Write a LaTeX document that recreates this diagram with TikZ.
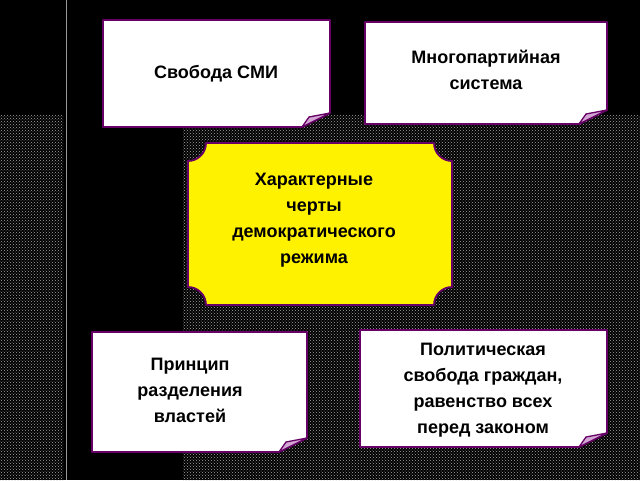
\documentclass[tikz,border=0pt]{standalone}
\usepackage{fontspec}
\setmainfont{Liberation Sans}
\usetikzlibrary{patterns}
\begin{document}
\begin{tikzpicture}[x=1pt,y=-1pt,
  card/.style={fill=white,draw=violet!80!black,line width=1.8pt,line join=round},
  flap/.style={fill=violet!35,draw=violet!80!black,line width=1.3pt,line join=round},
  txt/.style={font=\bfseries\fontsize{18}{26}\selectfont,align=center,text=black}]
\useasboundingbox (0,0) rectangle (640,480);
\fill[black] (0,0) rectangle (640,480);
\fill[pattern=crosshatch dots,pattern color=gray!70] (0,115) rectangle (63,480);
\fill[pattern=crosshatch dots,pattern color=gray!70] (183,115) rectangle (640,480);
\draw[gray!80,line width=1pt] (66,0) -- (66,480);
% folded cards
\foreach \xa/\ya/\xb/\yb in {103/20/330/127, 365/22/607/124, 92/332/307/452, 360/330/607/447}{
  \draw[card] (\xa,\ya) -- (\xb,\ya) -- (\xb,\yb-14) -- (\xb-28,\yb) -- (\xa,\yb) -- cycle;
  \draw[flap] (\xb-28,\yb) -- (\xb-21,\yb-10) -- (\xb,\yb-14) -- cycle;
}
% center plaque
\draw[fill=yellow,draw=violet!80!black,line width=1.8pt]
  (206,143) -- (434,143) arc[start angle=180,end angle=90,radius=18]
  -- (452,287) arc[start angle=270,end angle=180,radius=18]
  -- (206,305) arc[start angle=0,end angle=-90,radius=18]
  -- (188,161) arc[start angle=90,end angle=0,radius=18] -- cycle;
\node[txt] (smi) at (216,74) {Свобода СМИ};
\node[txt] (mp) at (486,70) {Многопартийная\\система};
\node[txt] (center) at (314,220) {Характерные\\черты\\демократического\\режима};
\node[txt] (pr) at (190,390) {Принцип\\разделения\\властей};
\node[txt] (pol) at (483,390) {Политическая\\свобода граждан,\\равенство всех\\перед законом};
\end{tikzpicture}
\end{document}
